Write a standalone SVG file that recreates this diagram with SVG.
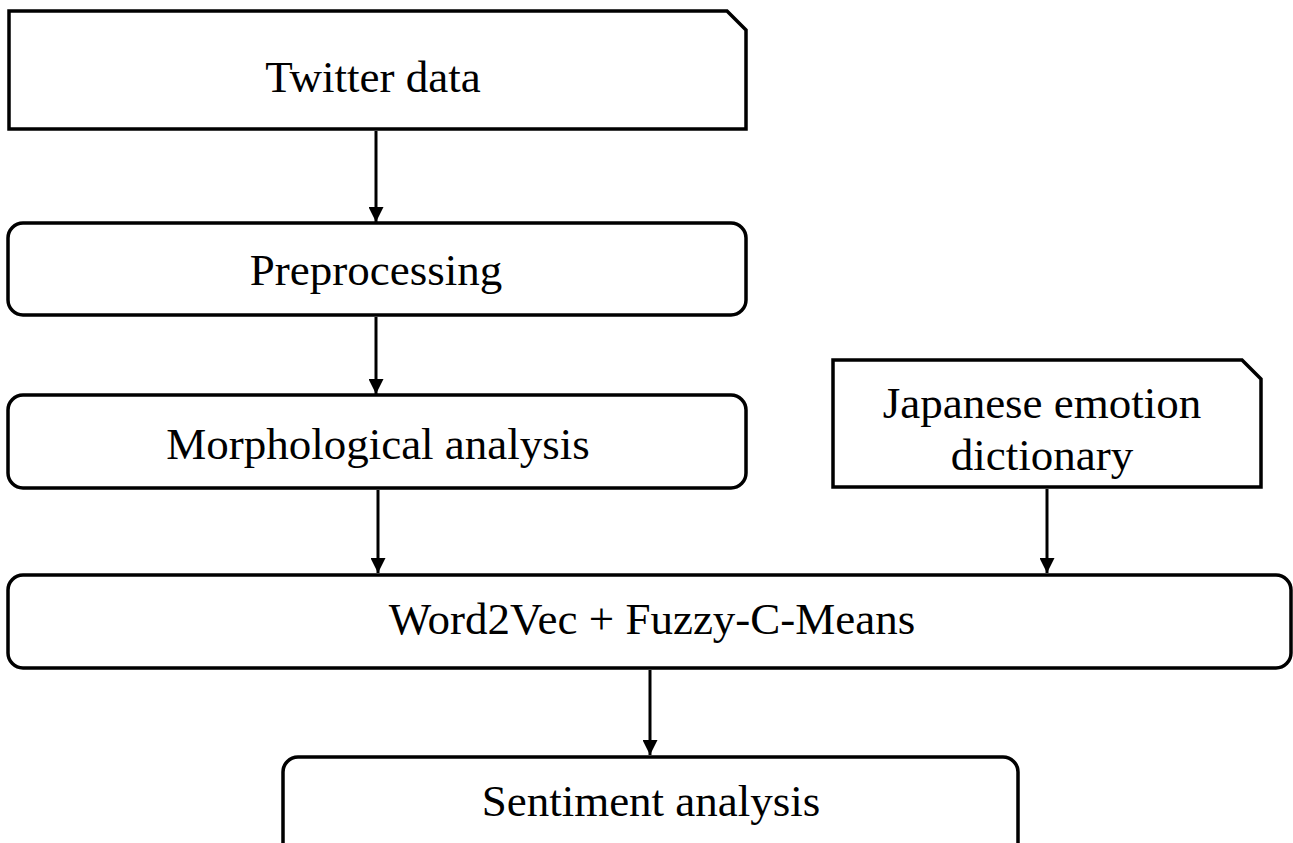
<svg xmlns="http://www.w3.org/2000/svg" width="1293" height="843" viewBox="0 0 1293 843">
<style>
.box{fill:#fff;stroke:#000;stroke-width:3.5}
.lbl{font-family:"Liberation Serif","Times New Roman",serif;font-size:45px;fill:#000;text-anchor:middle}
.conn{stroke:#000;stroke-width:3;fill:none}
</style>
<defs>
<marker id="ah" viewBox="0 0 10 10" refX="10" refY="5" markerWidth="5" markerHeight="5" markerUnits="strokeWidth" orient="auto">
<path d="M0,0 L10,5 L0,10 z" fill="#000"/>
</marker>
</defs>
<rect width="1293" height="843" fill="#fff"/>
<g id="twitter">
<path class="box" d="M9,11 H727 L746,30 V129 H9 Z"/>
<text class="lbl" x="373" y="92">Twitter data</text>
</g>
<g id="preprocessing">
<rect class="box" x="8" y="223" width="738" height="92" rx="15"/>
<text class="lbl" x="376" y="285">Preprocessing</text>
</g>
<g id="morph">
<rect class="box" x="8" y="395" width="738" height="93" rx="15"/>
<text class="lbl" x="378" y="459">Morphological analysis</text>
</g>
<g id="dict">
<path class="box" d="M833,360 H1242 L1261,379 V487 H833 Z"/>
<text class="lbl" x="1042" y="418">Japanese emotion</text>
<text class="lbl" x="1042" y="470">dictionary</text>
</g>
<g id="w2v">
<rect class="box" x="8" y="575" width="1283" height="93" rx="15"/>
<text class="lbl" x="652" y="634">Word2Vec + Fuzzy-C-Means</text>
</g>
<g id="sentiment">
<rect class="box" x="283" y="757" width="735" height="110" rx="15"/>
<text class="lbl" x="651" y="816">Sentiment analysis</text>
</g>
<g id="connectors">
<line class="conn" x1="376" y1="131" x2="376" y2="222" marker-end="url(#ah)"/>
<line class="conn" x1="376" y1="317" x2="376" y2="394" marker-end="url(#ah)"/>
<line class="conn" x1="378" y1="490" x2="378" y2="573" marker-end="url(#ah)"/>
<line class="conn" x1="1047" y1="489" x2="1047" y2="573" marker-end="url(#ah)"/>
<line class="conn" x1="650" y1="670" x2="650" y2="755" marker-end="url(#ah)"/>
</g>
</svg>
